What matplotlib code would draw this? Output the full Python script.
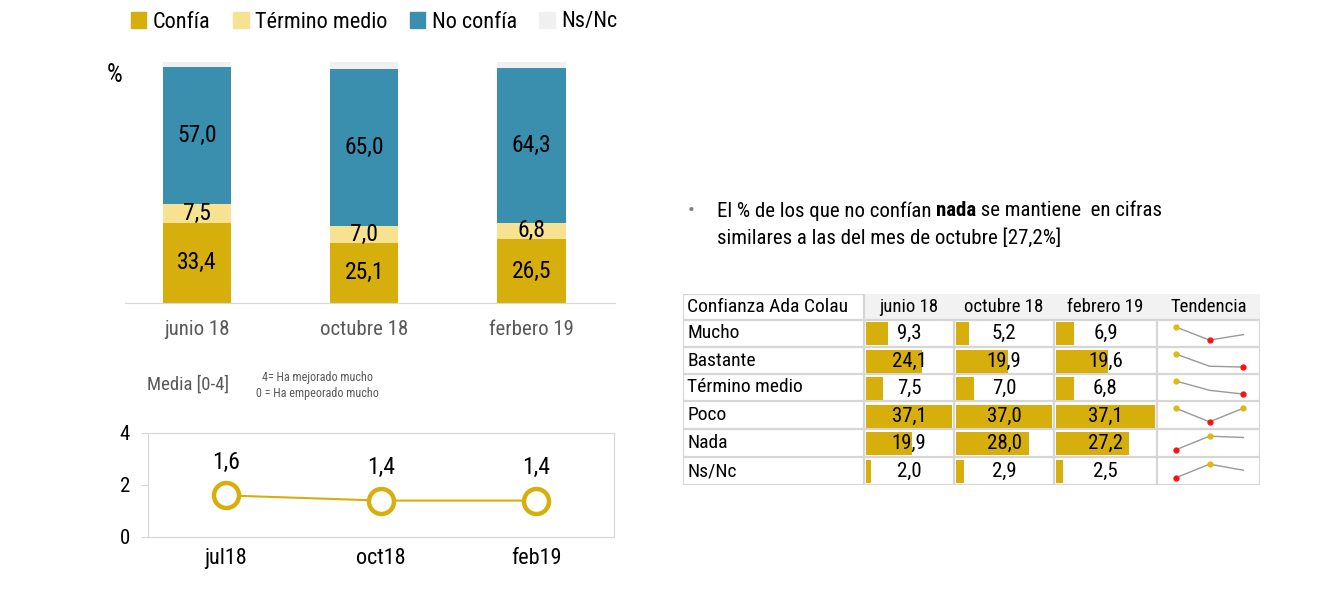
import matplotlib
matplotlib.use("Agg")
import matplotlib.pyplot as plt
import matplotlib.font_manager as fm
from matplotlib.patches import Patch, Rectangle

# pick a condensed font if one is installed
FONT, STRETCH = "Roboto", "normal"
for pref in ("Roboto Condensed", "Liberation Sans Narrow", "DejaVu Sans", "Open Sans"):
    for f in fm.fontManager.ttflist:
        if f.name == pref and ("Condensed" in f.fname or "Narrow" in f.fname):
            FONT, STRETCH = f.name, f.stretch
            break
    if FONT != "Roboto":
        break
plt.rcParams["font.family"] = [FONT, "DejaVu Sans"]
plt.rcParams["font.stretch"] = STRETCH

# ---- data ----
periods = ["junio 18", "octubre 18", "ferbero 19"]
confia = [33.4, 25.1, 26.5]
termino = [7.5, 7.0, 6.8]
no_confia = [57.0, 65.0, 64.3]
nsnc = [2.0, 2.9, 2.5]

media_labels = ["jul18", "oct18", "feb19"]
media = [1.6, 1.4, 1.4]

table_rows = ["Mucho", "Bastante", "Término medio", "Poco", "Nada", "Ns/Nc"]
table_cols = ["junio 18", "octubre 18", "febrero 19"]
junio = [9.3, 24.1, 7.5, 37.1, 19.9, 2.0]
octubre = [5.2, 19.9, 7.0, 37.0, 28.0, 2.9]
febrero = [6.9, 19.6, 6.8, 37.1, 27.2, 2.5]

YEL = "#D6AF0D"
LYEL = "#F7E291"
BLUE = "#3A8EAE"
NSNC = "#F0F0F0"
GRID = "#D6D6D6"
GREY_TXT = "#595959"

W, H = 1322, 599
fig = plt.figure(figsize=(W / 100, H / 100), dpi=100)


def rect(x0, y0, x1, y1):
    # pixel box (top-left origin) -> figure fraction
    return [x0 / W, 1 - y1 / H, (x1 - x0) / W, (y1 - y0) / H]


def fmt(v):
    return f"{v:.1f}".replace(".", ",")


# ---- stacked bars ----
ax = fig.add_axes(rect(125, 62, 615, 303))
x = range(len(periods))
bw = 0.41
ax.bar(x, confia, bw, color=YEL)
b2 = [c for c in confia]
ax.bar(x, termino, bw, bottom=b2, color=LYEL)
b3 = [c + t for c, t in zip(confia, termino)]
ax.bar(x, no_confia, bw, bottom=b3, color=BLUE)
b4 = [c + n for c, n in zip(b3, no_confia)]
ax.bar(x, nsnc, bw, bottom=b4, color=NSNC)
for i in x:
    ax.text(i, confia[i] / 2, fmt(confia[i]), ha="center", va="center", fontsize=17)
    ax.text(i, b2[i] + termino[i] / 2, fmt(termino[i]), ha="center", va="center", fontsize=17)
    ax.text(i, b3[i] + no_confia[i] / 2, fmt(no_confia[i]), ha="center", va="center", fontsize=17)
ax.set_xlim(-0.43, 2.5)
ax.set_ylim(0, 100)
for s in ("top", "right", "left"):
    ax.spines[s].set_visible(False)
ax.spines["bottom"].set_color(GRID)
ax.set_yticks([])
ax.set_xticks(list(x))
ax.set_xticklabels(periods, fontsize=15, color=GREY_TXT)
ax.tick_params(axis="x", length=0, pad=12)
fig.text(107 / W, 1 - 75 / H, "%", fontsize=18, va="center")

handles = [Patch(color=c) for c in (YEL, LYEL, BLUE, NSNC)]
fig.legend(handles, ["Confía", "Término medio", "No confía", "Ns/Nc"],
           loc="center left", bbox_to_anchor=(122 / W, 1 - 22 / H), ncol=4,
           frameon=False, fontsize=16, handlelength=0.7, handleheight=0.7,
           handletextpad=0.3, columnspacing=1.0, borderaxespad=0)

# ---- media line ----
fig.text(147 / W, 1 - 385 / H, "Media [0-4]", fontsize=13.5, color=GREY_TXT, va="center")
fig.text(262 / W, 1 - 377 / H, "4= Ha mejorado mucho", fontsize=8.7, color=GREY_TXT, va="center")
fig.text(256 / W, 1 - 393 / H, "0 = Ha empeorado mucho", fontsize=8.7, color=GREY_TXT, va="center")

ax2 = fig.add_axes(rect(148, 433, 614, 537))
ax2.plot(range(3), media, color=YEL, lw=1.5, marker="o", ms=18,
         mfc="white", mec=YEL, mew=3.2)
for i, v in enumerate(media):
    ax2.annotate(fmt(v), (i, v), xytext=(0, 24), textcoords="offset points",
                 ha="center", va="center", fontsize=17)
ax2.set_xlim(-0.5, 2.5)
ax2.set_ylim(0, 4)
ax2.set_yticks([0, 2, 4])
ax2.set_xticks(range(3))
ax2.set_xticklabels(media_labels, fontsize=16)
for s in ax2.spines.values():
    s.set_color(GRID)
ax2.tick_params(axis="y", length=5, color=GRID, labelsize=15, pad=8)
ax2.tick_params(axis="x", length=0, pad=8)

# ---- bullet text ----
r = fig.canvas.get_renderer()
fs = 15
fig.text(688 / W, 1 - 211 / H, "•", fontsize=fs, color="#7f7f7f", va="center")
y1 = 1 - 211 / H
t = fig.text(717 / W, y1, "El % de los que no confían ", fontsize=fs, va="center")
bb = t.get_window_extent(r)
t = fig.text(bb.x1 / W, y1, "nada", fontsize=fs, va="center", weight="bold")
bb = t.get_window_extent(r)
fig.text(bb.x1 / W, y1, " se mantiene  en cifras", fontsize=fs, va="center")
fig.text(717 / W, 1 - 238 / H, "similares a las del mes de octubre [27,2%]", fontsize=fs, va="center")

# ---- table ----
col_x = [683, 864, 954, 1054, 1157, 1260]
row_y = [294, 320, 347, 374, 401, 429, 457, 485]
tab = fig.add_axes(rect(col_x[0], row_y[0], col_x[-1], row_y[-1]))
tab.set_xlim(col_x[0], col_x[-1])
tab.set_ylim(row_y[-1], row_y[0])
tab.axis("off")
tab.add_patch(Rectangle((col_x[1], row_y[0]), col_x[-1] - col_x[1], row_y[1] - row_y[0],
                        color="#F2F2F2", lw=0))
lw = 1.6
tab.hlines(row_y[1:], col_x[0], col_x[-1], color=GRID, lw=lw)
tab.hlines(row_y[0], col_x[0], col_x[1], color=GRID, lw=lw)
tab.vlines(col_x, row_y[1], row_y[-1], color=GRID, lw=lw)
tab.vlines([col_x[0], col_x[1]], row_y[0], row_y[1], color=GRID, lw=lw)
tab.text(col_x[0] + 4, (row_y[0] + row_y[1]) / 2, "Confianza Ada Colau",
         fontsize=14, va="center", ha="left")
for j, c in enumerate(table_cols + ["Tendencia"]):
    tab.text((col_x[j + 1] + col_x[j + 2]) / 2, (row_y[0] + row_y[1]) / 2, c,
             fontsize=13.5, va="center", ha="center")
for i, name in enumerate(table_rows):
    tab.text(col_x[0] + 4, (row_y[i + 1] + row_y[i + 2]) / 2, name,
             fontsize=14, va="center", ha="left")

for j, vals in enumerate([junio, octubre, febrero]):
    cax = fig.add_axes(rect(col_x[j + 1] + 2, row_y[1], col_x[j + 2] - 2, row_y[-1]))
    cax.barh([i + 0.5 for i in range(len(vals))], vals, height=0.84, color=YEL)
    cax.set_xlim(0, max(vals))
    cax.set_ylim(len(vals), 0)
    cax.axis("off")
    for i, v in enumerate(vals):
        cax.text(0.5, i + 0.5, fmt(v), transform=cax.get_yaxis_transform(),
                 ha="center", va="center", fontsize=15)

for i, name in enumerate(table_rows):
    vals = [junio[i], octubre[i], febrero[i]]
    sax = fig.add_axes(rect(col_x[4] + 1, row_y[i + 1] + 1, col_x[5] - 1, row_y[i + 2] - 1))
    sax.plot(range(3), vals, color="#999999", lw=1)
    hi, lo = max(vals), min(vals)
    for k, v in enumerate(vals):
        if v == hi:
            sax.plot(k, v, "o", color="#E2B80F", ms=3.5)
        elif v == lo:
            sax.plot(k, v, "o", color="#FF1010", ms=3.5)
    sax.margins(y=0.45)
    sax.set_xlim(-0.52, 2.46)
    sax.axis("off")

fig.savefig("out.png", dpi=100)
